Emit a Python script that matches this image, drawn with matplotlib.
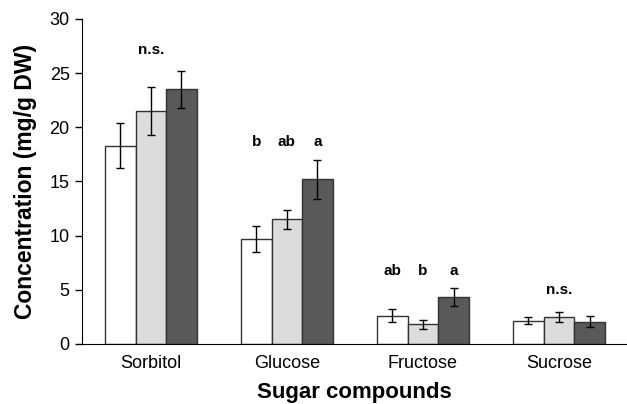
import matplotlib
matplotlib.use("Agg")
import matplotlib.pyplot as plt
import numpy as np

plt.rcParams['font.family'] = ['Liberation Sans', 'DejaVu Sans']

compounds = ['Sorbitol', 'Glucose', 'Fructose', 'Sucrose']
vals_1 = [18.3, 9.7, 2.6, 2.15]
vals_2 = [21.5, 11.5, 1.8, 2.45]
vals_3 = [23.5, 15.2, 4.3, 2.05]
err_1 = [2.1, 1.2, 0.58, 0.34]
err_2 = [2.25, 0.9, 0.4, 0.46]
err_3 = [1.7, 1.8, 0.83, 0.5]
letters = [['', 'n.s.', ''], ['b', 'ab', 'a'], ['ab', 'b', 'a'], ['', 'n.s.', '']]
letter_y = [27.1, 18.6, 6.7, 5.0]

fig = plt.figure(figsize=(6.27, 4.04), dpi=100)
ax = fig.add_axes([0.131, 0.149, 0.869, 0.804])

x = np.arange(len(compounds))
w = 0.225
series = [(vals_1, err_1, 'white'), (vals_2, err_2, '#dcdcdc'), (vals_3, err_3, '#595959')]
for k, (v, e, c) in enumerate(series):
    xs = x + (k - 1) * w
    ax.bar(xs, v, w, color=c, edgecolor='#333333', linewidth=1.0, zorder=2)
    ax.errorbar(xs, v, yerr=e, fmt='none', ecolor='black', elinewidth=1.0,
                capsize=3, capthick=1.0, zorder=3)

for i in range(len(compounds)):
    for k in range(3):
        if letters[i][k]:
            ax.text(x[i] + (k - 1) * w, letter_y[i], letters[i][k], ha='center', va='center',
                    fontsize=11, fontweight='bold')

ax.set_xlim(-0.505, 3.5)
ax.set_ylim(0, 30)
ax.set_yticks(range(0, 31, 5))
ax.set_xticks(x)
ax.set_xticklabels(compounds, fontsize=13)
ax.tick_params(axis='x', length=0, pad=8)
ax.tick_params(axis='y', labelsize=13, length=5, width=1, pad=4)
ax.spines['top'].set_visible(False)
ax.spines['right'].set_visible(False)
ax.set_ylabel('Concentration (mg/g DW)', fontsize=16.5, fontweight='bold', labelpad=9)
ax.set_xlabel('Sugar compounds', fontsize=16, fontweight='bold', labelpad=7)

fig.savefig('out.png', dpi=100)
